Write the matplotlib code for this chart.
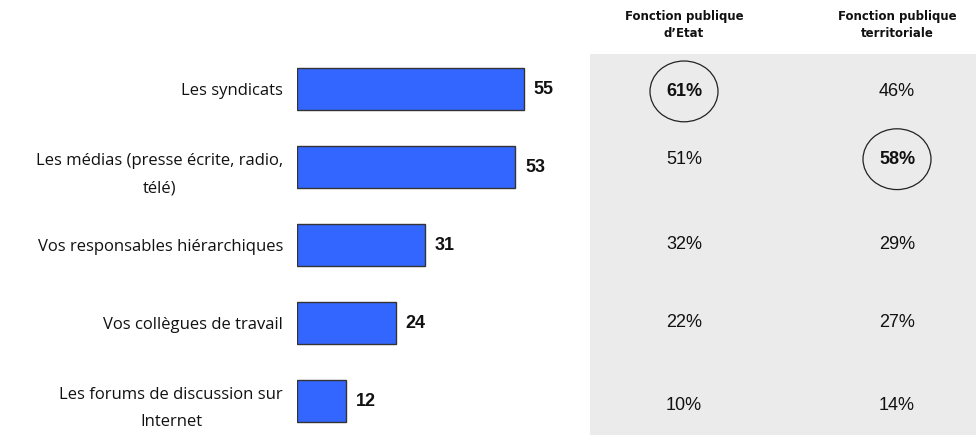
import matplotlib.pyplot as plt
from matplotlib.patches import Ellipse

categories = [
    "Les syndicats",
    "Les médias (presse écrite, radio,\ntélé)",
    "Vos responsables hiérarchiques",
    "Vos collègues de travail",
    "Les forums de discussion sur\nInternet",
]
total = [55, 53, 31, 24, 12]
col_headers = ["Fonction publique\nd\u2019Etat", "Fonction publique\nterritoriale"]
etat = [61, 51, 32, 22, 10]
territoriale = [46, 58, 29, 27, 14]
circled = [(0, 0), (1, 1)]  # (row, column)

W, H = 976, 445
fig = plt.figure(figsize=(W / 100, H / 100), dpi=100)


def px_box(x0, y0, x1, y1):
    return [x0 / W, 1 - y1 / H, (x1 - x0) / W, (y1 - y0) / H]


# bar panel
ax = fig.add_axes(px_box(297, 50, 590, 440))
rows = list(range(len(categories)))
ax.barh(rows, total, height=0.55, color="#3366FF", edgecolor="#333333", linewidth=1)
ax.set_xlim(0, 293 / 4.12)
ax.set_ylim(4.5, -0.5)
for r, v in zip(rows, total):
    ax.text(v + 2.4, r, str(v), va="center", ha="left", fontsize=13,
            fontweight="bold", family="Liberation Sans", color="#111111")
ax.set_yticks(rows)
ax.set_yticklabels(categories, fontsize=12, family="Open Sans",
                   linespacing=1.95, multialignment="center", color="#111111")
ax.tick_params(axis="y", length=0, pad=10)
ax.set_xticks([])
for s in ax.spines.values():
    s.set_visible(False)

# table panel
tb = fig.add_axes(px_box(590, 54, 976, 435))
tb.set_facecolor("#EBEBEB")
tb.set_xlim(0, 386)
tb.set_ylim(4.44, -0.45)
tb.set_xticks([])
tb.set_yticks([])
for s in tb.spines.values():
    s.set_visible(False)

col_x = [94, 307]
row_y = [0.03, 0.9, 2.0, 3.0, 4.06]
for c, vals in enumerate([etat, territoriale]):
    for r, v in enumerate(vals):
        bold = (r, c) in circled
        tb.text(col_x[c], row_y[r], f"{v}%", ha="center", va="center", fontsize=13,
                family="Liberation Sans", fontweight="bold" if bold else "normal",
                color="#111111")
        if bold:
            tb.add_patch(Ellipse((col_x[c], row_y[r]), 68, 0.78, fill=False,
                                 edgecolor="#222222", linewidth=0.9))

for c, head in enumerate(col_headers):
    fig.text((590 + col_x[c]) / W, 1 - 25 / H, head, ha="center", va="center",
             fontsize=8.5, fontweight="bold", family="DejaVu Sans",
             linespacing=1.4, color="#111111")

fig.savefig("out.png", dpi=100)
